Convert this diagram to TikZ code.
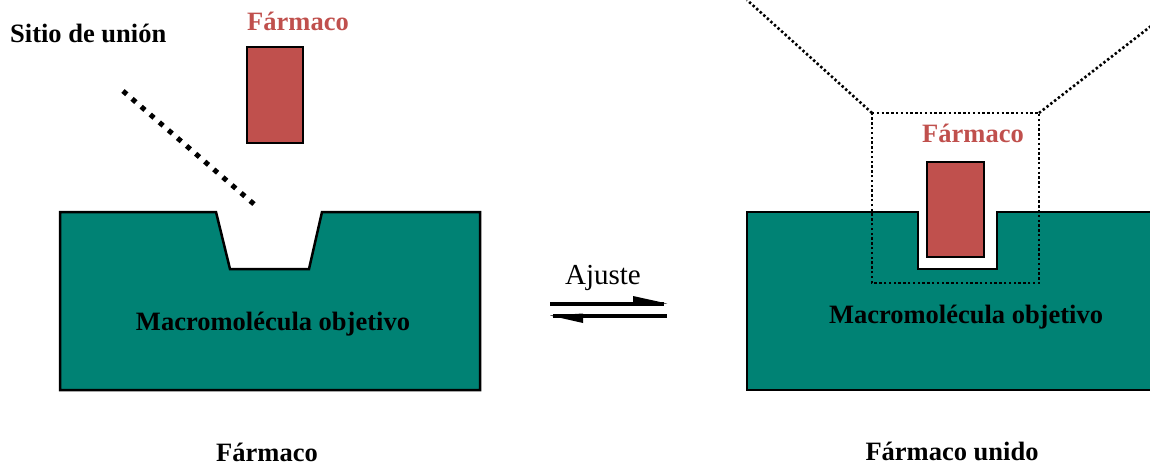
\documentclass[tikz,border=0pt]{standalone}
\usepackage{fontspec}
\setmainfont{Liberation Serif}
\definecolor{teal1}{RGB}{0,130,116}
\definecolor{drugred}{RGB}{192,80,77}
\begin{document}
\begin{tikzpicture}[x=1pt,y=-1pt,
  mol/.style={fill=teal1,draw=black,line width=2.5pt,line join=miter},
  drug/.style={fill=drugred,draw=black,line width=2.5pt},
  lbl/.style={font=\fontsize{26.5}{28}\selectfont\bfseries,anchor=base,inner sep=0pt},
  redlbl/.style={lbl,text=drugred},
  bigdots/.style={line width=5pt,dash pattern=on 5pt off 7pt},
  smalldots/.style={line width=2.6pt,dash pattern=on 2.4pt off 2.4pt},
  harp/.style={line width=4pt}]
\useasboundingbox (0,0) rectangle (1150,465);
\clip (0,0) rectangle (1150,465);
% left molecule
\draw[mol] (60,212) -- (216,212) -- (230,269) -- (309,269) -- (322,212) -- (480,212) -- (480,390) -- (60,390) -- cycle;
\node[lbl] (molL) at (273,330) {Macromolécula objetivo};
\node[lbl,anchor=base west] (sitio) at (10,43) {Sitio de unión};
\node[redlbl] (farmL) at (298,31) {Fármaco};
\draw[drug] (247,47) rectangle (303,143);
\coordinate (dotA) at (123,91);
\coordinate (dotB) at (255,205);
\draw[bigdots] (dotA) -- (dotB);
\node[lbl] (bottomL) at (267,461) {Fármaco};
% arrows
\node[font=\fontsize{29}{30}\selectfont,anchor=base,inner sep=0pt] (ajuste) at (603,284) {Ajuste};
\coordinate (a1) at (550,303.5);
\coordinate (a2) at (664,303.5);
\coordinate (b1) at (553,315.5);
\coordinate (b2) at (667,315.5);
\draw[harp] (a1) -- (a2);
\fill (633,296) -- (667,303.5) -- (633,305.5) -- cycle;
\draw[harp] (b1) -- (b2);
\fill (583,323) -- (550,315.5) -- (583,313.5) -- cycle;
% right molecule
\draw[mol] (747,212) -- (918,212) -- (918,269) -- (997,269) -- (997,212) -- (1165,212) -- (1165,390) -- (747,390) -- cycle;
\node[lbl] (molR) at (966,323) {Macromolécula objetivo};
\draw[drug] (927,162) rectangle (984,257);
\node[redlbl] (farmR) at (973,143) {Fármaco};
\coordinate (r1) at (872,113);
\coordinate (r2) at (1039,113);
\coordinate (r3) at (1039,283);
\coordinate (r4) at (872,283);
\coordinate (z1) at (747,0);
\coordinate (z2) at (1164,16);
\draw[smalldots] (r1) -- (r2) -- (r3) -- (r4) -- cycle;
\draw[smalldots] (r1) -- (z1);
\draw[smalldots] (r2) -- (z2);
\node[lbl] (bottomR) at (952,460) {Fármaco unido};
\end{tikzpicture}
\end{document}
